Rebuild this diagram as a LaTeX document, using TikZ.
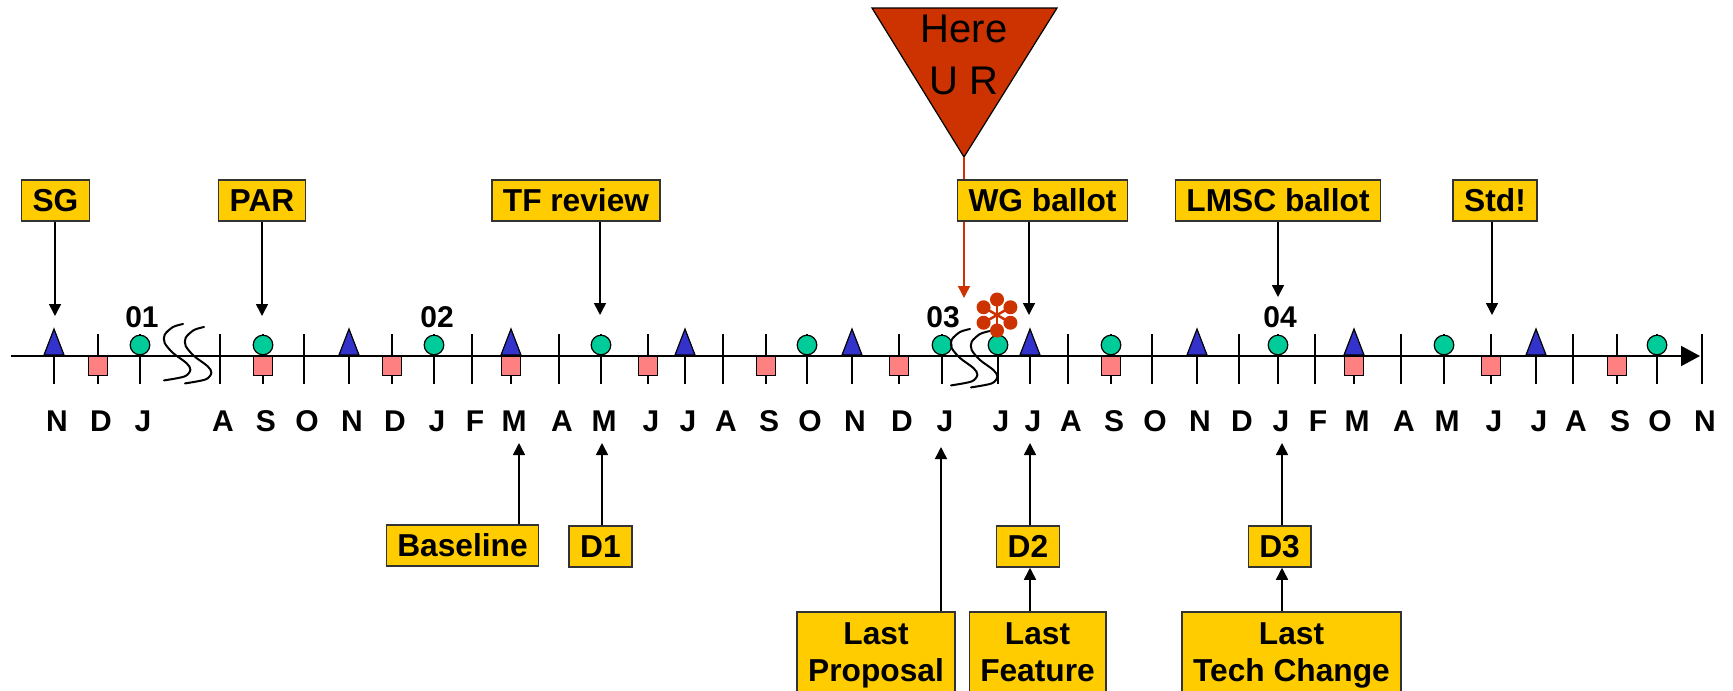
\documentclass[tikz,border=0pt]{standalone}
\usepackage{fontspec}
\usepackage{xcolor}
\usepackage{tikz}
\usetikzlibrary{arrows.meta}
\newfontfamily\arialfont{Liberation Sans}
\newcommand\msboxfont{\arialfont\bfseries\fontsize{31.7}{36.5}\selectfont}
\newcommand\monthfont{\arialfont\bfseries\fontsize{30}{36}\selectfont}
\newcommand\herefont{\arialfont\fontsize{40}{52}\selectfont}
\definecolor{boxyellow}{HTML}{FFCC00}
\definecolor{herered}{HTML}{CC3300}
\definecolor{triblue}{HTML}{3333CC}
\definecolor{dotgreen}{HTML}{00CC99}
\definecolor{sqpink}{HTML}{FF8080}

\begin{document}
\begin{tikzpicture}[x=1pt,y=-1pt,
  msbox/.style={draw=black!80,line width=1.5pt,fill=boxyellow,inner xsep=11pt,inner ysep=0pt,minimum height=41pt,font=\msboxfont},
  lastbox/.style={msbox,minimum height=0pt,inner ysep=11.3pt,align=center,anchor=north},
  conn/.style={line width=1.5pt,-{Triangle[length=12pt,width=12pt]}},
  month/.style={font=\monthfont,inner sep=0pt},
  tickline/.style={line width=1.5pt},
  evtri/.style={draw=black,line width=1.2pt,fill=triblue},
  evdot/.style={draw=black,line width=1.2pt,fill=dotgreen},
  evsq/.style={draw=black,line width=1.2pt,fill=sqpink},
  brk/.pic={\draw[line width=2pt,line cap=round] plot[smooth] coordinates {(0,0) (-10,3) (-18.3,10.7) (-18.3,19) (-10,29) (3.4,39) (7.4,45.7) (1.7,52.4) (-19,56.4)};}]
\clip (0,0) rectangle (1733,691);

\coordinate (axstart) at (11,356);
\coordinate (axend) at (1700,356);
\coordinate (hereL) at (872,8);
\coordinate (hereR) at (1057,8);
\coordinate (apex) at (964,157);
\coordinate (t-here) at (964,298);
\coordinate (t-sg) at (55,316);
\coordinate (t-par) at (262,316);
\coordinate (t-tf) at (600,315);
\coordinate (t-wg) at (1029,315);
\coordinate (t-lmsc) at (1278,297);
\coordinate (t-std) at (1492,315);
\coordinate (t-base) at (519,443);
\coordinate (t-d1) at (602,443);
\coordinate (t-prop) at (941,447);
\coordinate (t-d2) at (1030,443);
\coordinate (t-d3) at (1282,443);

\foreach \x/\m in {54/N,98/D,140/J,220/A,263/S,304/O,349/N,392/D,434/J,472/F,511/M,559/A,601/M,648/J,685/J,723/A,766/S,807/O,852/N,899/D,942/J,998/J,1030/J,1068/A,1111/S,1152/O,1197/N,1239/D,1278/J,1315/F,1354/M,1401/A,1444/M,1491/J,1536/J,1573/A,1617/S,1657/O,1702/N}{
  \draw[tickline] (\x,334) -- (\x,384);
  \node[month] at (\x+3,421) {\m};
}
\draw[line width=2pt,-{Triangle[length=19pt,width=20pt]}] (axstart) -- (axend);

\foreach \x in {54,349,511,685,852,1030,1197,1354,1536}
  \filldraw[evtri] (\x-10,355) -- (\x+10,355) -- (\x,329) -- cycle;
\foreach \x in {140,263,434,601,807,942,998,1111,1278,1444,1657}
  \filldraw[evdot] (\x,345) circle (9.8pt);
\foreach \x in {98,263,392,511,648,766,899,1111,1354,1491,1617}
  \filldraw[evsq] (\x-9.8,356) rectangle (\x+9.8,375.5);

\pic at (183,324) {brk};
\pic at (204,327) {brk};
\pic at (970,329) {brk};
\pic at (990,331) {brk};

\node[month] (y01) at (142,317) {01};
\node[month] (y02) at (437,317) {02};
\node[month] (y03) at (943,317) {03};
\node[month] (y04) at (1280,317) {04};

\begin{scope}[shift={(997,315)}]
\foreach \a in {30,90,...,330}{
  \draw[herered,line width=2.5pt] (0,0) -- (\a:15.5pt);
  \fill[herered] (\a:15.5pt) circle (7pt);
}
\end{scope}

\filldraw[fill=herered,draw=black,line width=1.2pt] (hereL) -- (hereR) -- (apex) -- cycle;
\node[font=\herefont,align=center] (hereur) at (964,55) {Here\\U R};
\draw[herered,line width=1.5pt,-{Triangle[length=12pt,width=12pt]}] (apex) -- (t-here);

\node[msbox] (sg) at (55.5,200.5) {SG};
\node[msbox] (par) at (262,200.5) {PAR};
\node[msbox] (tf) at (576,200.5) {TF review};
\node[msbox] (wg) at (1042.5,200.5) {WG ballot};
\node[msbox] (lmsc) at (1278,200.5) {LMSC ballot};
\node[msbox] (std) at (1495,200.5) {Std!};

\node[msbox] (base) at (462.5,545.5) {Baseline};
\node[msbox] (d1) at (600.5,546.5) {D1};
\node[msbox] (d2) at (1028,546.5) {D2};
\node[msbox] (d3) at (1279.5,546.5) {D3};
\node[lastbox] (prop) at (876,611) {Last\\Proposal};
\node[lastbox] (feat) at (1037.5,611) {Last\\Feature};
\node[lastbox] (tech) at (1291.5,611) {Last\\Tech Change};

\draw[conn] (sg.south -| t-sg) -- (t-sg);
\draw[conn] (par.south -| t-par) -- (t-par);
\draw[conn] (tf.south -| t-tf) -- (t-tf);
\draw[conn] (wg.south -| t-wg) -- (t-wg);
\draw[conn] (lmsc.south -| t-lmsc) -- (t-lmsc);
\draw[conn] (std.south -| t-std) -- (t-std);

\draw[conn] (base.north -| t-base) -- (t-base);
\draw[conn] (d1.north -| t-d1) -- (t-d1);
\draw[conn] (prop.north -| t-prop) -- (t-prop);
\draw[conn] (d2.north -| t-d2) -- (t-d2);
\draw[conn] (d3.north -| t-d3) -- (t-d3);
\draw[conn] (feat.north -| t-d2) -- (d2.south -| t-d2);
\draw[conn] (tech.north -| t-d3) -- (d3.south -| t-d3);
\end{tikzpicture}
\end{document}
